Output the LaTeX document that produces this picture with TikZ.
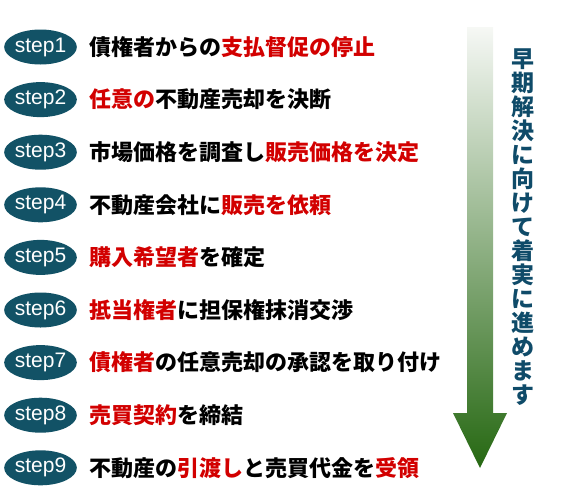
\documentclass[tikz,border=0pt]{standalone}
\usepackage{fontspec}
\usetikzlibrary{positioning,shapes.geometric}
\newfontfamily\jpfont{Noto Sans CJK JP}
\newfontfamily\stepfont{Liberation Sans}
\definecolor{cteal}{RGB}{18,82,102}
\definecolor{cvert}{RGB}{15,75,105}
\definecolor{cred}{RGB}{210,0,0}
\definecolor{ctop}{RGB}{246,248,245}
\definecolor{cmid}{RGB}{128,168,104}
\definecolor{cbot}{RGB}{38,104,18}
\tikzset{flow/.style={x=1pt,y=-1pt},
  stepoval/.style={ellipse,fill=cteal,text=white,minimum width=71pt,minimum height=35pt,inner sep=0pt,font=\stepfont\fontsize{21}{21}\selectfont},
  steptext/.style={anchor=west,inner sep=0pt,font=\jpfont\bfseries\fontsize{22}{22}\selectfont},
  verttext/.style={anchor=north,inner sep=0pt,align=center,text=cvert,font=\jpfont\bfseries\fontsize{23}{24}\selectfont}}
\newcommand{\hl}[1]{\textcolor{cred}{#1}}

\begin{document}
\begin{tikzpicture}[flow]
    \useasboundingbox (0,0) rectangle (584,499);
    % arrow down the right side
    \shade[top color=ctop,middle color=cmid,bottom color=cbot]
      (467,27) -- (493,27) -- (493,413) -- (507,413) -- (480,468) -- (453,413) -- (467,413) -- cycle;
    \foreach \i/\txt in {1/{債権者からの\hl{支払督促の停止}},
                         2/{\hl{任意の}不動産売却を決断},
                         3/{市場価格を調査し\hl{販売価格を決定}},
                         4/{不動産会社に\hl{販売を依頼}},
                         5/{\hl{購入希望者}を確定},
                         6/{\hl{抵当権者}に担保権抹消交渉},
                         7/{\hl{債権者}の任意売却の承認を取り付け},
                         8/{\hl{売買契約}を締結},
                         9/{不動産の\hl{引渡し}と売買代金を\hl{受領}}} {
      \node[stepoval] (s\i) at (40.5,{47+52.6*(\i-1)}) {step\i};
      \node[steptext,right=12pt of s\i] (t\i) {\txt};
    }
    \node[verttext] (goal) at (523,49) {早\\期\\解\\決\\に\\向\\け\\て\\着\\実\\に\\進\\め\\ま\\す};
  \end{tikzpicture}
\end{document}
